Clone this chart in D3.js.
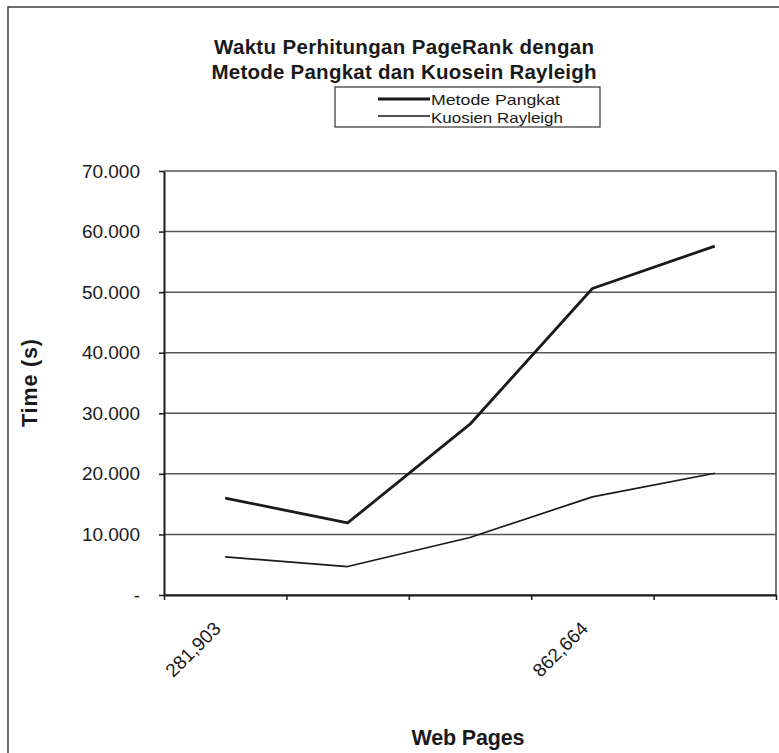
<!DOCTYPE html>
<html>
<head>
<meta charset="utf-8">
<script src="https://cdn.jsdelivr.net/npm/d3@7"></script>
<style>
  html, body { margin: 0; padding: 0; background: #fff; }
  svg { display: block; font-family: "Liberation Sans", Arial, sans-serif; }
</style>
</head>
<body>
<svg id="chart" width="779" height="753"></svg>
<script>
// Computation time of PageRank (seconds) per web-page collection size
const tickLabels = ["281,903", "", "", "862,664", ""];
const metodePangkat = [16.0, 11.9, 28.2, 50.6, 57.6];
const kuosienRayleigh = [6.3, 4.7, 9.5, 16.2, 20.1];
const yTicks = [0, 10, 20, 30, 40, 50, 60, 70];
const seriesNames = ["Metode Pangkat", "Kuosien Rayleigh"];
const titleLines = ["Waktu Perhitungan PageRank dengan", "Metode Pangkat dan Kuosein Rayleigh"];

const svg = d3.select("#chart");
const ink = "#1a1a1a";

const plot = { left: 164, right: 776, top: 171, bottom: 595 };

// outer chart frame (runs off the right and bottom edges)
svg.append("rect")
  .attr("x", 8).attr("y", 7)
  .attr("width", 800).attr("height", 800)
  .attr("fill", "none").attr("stroke", "#4a4a4a").attr("stroke-width", 1.6);

const idx = d3.range(tickLabels.length);
const x = d3.scaleBand().domain(idx).range([plot.left, plot.right]).paddingInner(0).paddingOuter(0);
const xEdge = d3.scaleLinear().domain([0, tickLabels.length]).range([plot.left, plot.right]);
const y = d3.scaleLinear().domain([0, 70]).range([plot.bottom, plot.top]);

// horizontal gridlines
svg.append("g").selectAll("line").data(yTicks).join("line")
  .attr("x1", plot.left).attr("x2", plot.right)
  .attr("y1", d => y(d)).attr("y2", d => y(d))
  .attr("stroke", "#555").attr("stroke-width", 1.5);

// plot-area right border
svg.append("line")
  .attr("x1", plot.right).attr("x2", plot.right)
  .attr("y1", plot.top).attr("y2", plot.bottom)
  .attr("stroke", "#4a4a4a").attr("stroke-width", 1.5);

// y axis
const yAxis = svg.append("g")
  .attr("transform", `translate(${plot.left},0)`)
  .call(d3.axisLeft(y).tickValues(yTicks).tickSize(5).tickSizeOuter(0).tickPadding(19)
    .tickFormat(d => d === 0 ? "-" : d3.format(".3f")(d)));
yAxis.select(".domain").attr("stroke", ink).attr("stroke-width", 2);
yAxis.selectAll(".tick line").attr("stroke", ink).attr("stroke-width", 1.5);
yAxis.selectAll(".tick text")
  .attr("fill", ink).style("font-size", "19px")
  .style("font-family", "'Liberation Sans', Arial, sans-serif");

// x axis: tick marks sit between categories
const xAxis = svg.append("g")
  .attr("transform", `translate(0,${plot.bottom})`)
  .call(d3.axisBottom(xEdge).tickValues(d3.range(tickLabels.length + 1)).tickSize(5).tickSizeOuter(0).tickFormat(""));
xAxis.select(".domain").attr("stroke", ink).attr("stroke-width", 2);
xAxis.selectAll(".tick line").attr("stroke", ink).attr("stroke-width", 1.5);

// rotated category labels
svg.append("g").selectAll("text").data(idx.filter(i => tickLabels[i] !== "")).join("text")
  .attr("transform", i => `translate(${x(i) + x.bandwidth() / 2 - 8},${plot.bottom + 30}) rotate(-45)`)
  .attr("text-anchor", "end")
  .attr("dy", "0.35em")
  .attr("fill", ink)
  .style("font-size", "19px")
  .text(i => tickLabels[i]);

// series lines
const line = d3.line().x((d, i) => x(i) + x.bandwidth() / 2).y(d => y(d));
svg.append("path").datum(metodePangkat)
  .attr("d", line).attr("fill", "none")
  .attr("stroke", ink).attr("stroke-width", 2.8).attr("stroke-linejoin", "round");
svg.append("path").datum(kuosienRayleigh)
  .attr("d", line).attr("fill", "none")
  .attr("stroke", ink).attr("stroke-width", 1.7).attr("stroke-linejoin", "round");

// chart title
svg.append("g").selectAll("text").data(titleLines).join("text")
  .attr("x", 404).attr("y", (d, i) => 54 + i * 25)
  .attr("text-anchor", "middle")
  .attr("fill", ink)
  .style("font-size", "20.5px").style("font-weight", "bold")
  .attr("textLength", (d, i) => i === 0 ? 380 : 385)
  .attr("lengthAdjust", "spacing")
  .text(d => d);

// axis titles
svg.append("text")
  .attr("transform", `translate(37,${(plot.top + plot.bottom) / 2}) rotate(-90)`)
  .attr("text-anchor", "middle")
  .attr("fill", ink)
  .style("font-size", "21.5px").style("font-weight", "bold")
  .attr("textLength", 88).attr("lengthAdjust", "spacing")
  .text("Time (s)");
svg.append("text")
  .attr("x", 468).attr("y", 745)
  .attr("text-anchor", "middle")
  .attr("fill", ink)
  .style("font-size", "21.5px").style("font-weight", "bold")
  .attr("textLength", 113).attr("lengthAdjust", "spacing")
  .text("Web Pages");

// legend
const legend = { x: 335, y: 87, w: 265, h: 40 };
svg.append("clipPath").attr("id", "legend-clip")
  .append("rect").attr("x", legend.x).attr("y", legend.y).attr("width", legend.w).attr("height", legend.h);
svg.append("rect")
  .attr("x", legend.x).attr("y", legend.y).attr("width", legend.w).attr("height", legend.h)
  .attr("fill", "#fff").attr("stroke", "#333").attr("stroke-width", 1.2);
const legendWidths = [2.8, 1.7];
const legendTextLen = [129, 132];
const lg = svg.append("g").attr("clip-path", "url(#legend-clip)");
seriesNames.forEach((name, i) => {
  const ly = 99 + i * 17;
  lg.append("line")
    .attr("x1", 378).attr("x2", 430).attr("y1", ly).attr("y2", ly)
    .attr("stroke", ink).attr("stroke-width", legendWidths[i]);
  lg.append("text")
    .attr("x", 431).attr("y", ly + 5.5 + i * 1.5)
    .attr("fill", ink)
    .style("font-size", "14.5px")
    .attr("textLength", legendTextLen[i])
    .attr("lengthAdjust", "spacingAndGlyphs")
    .text(name);
});
</script>
</body>
</html>
